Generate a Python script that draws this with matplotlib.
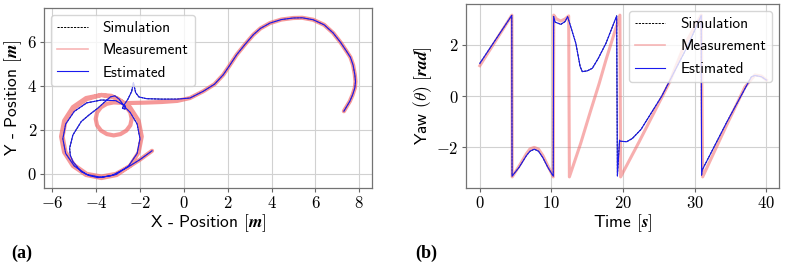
import numpy as np
import matplotlib
matplotlib.use("Agg")
import matplotlib.pyplot as plt
from matplotlib.lines import Line2D
from matplotlib.ticker import FuncFormatter

plt.rcParams["font.family"] = ["cmss10", "DejaVu Sans"]
plt.rcParams["mathtext.fontset"] = "cm"
plt.rcParams["axes.unicode_minus"] = False

# ---- panel (a): x-y trajectory ----
meas_x = [7.30, 7.45, 7.57, 7.70, 7.80, 7.83, 7.80, 7.72, 7.60, 7.42, 7.15, 6.81, 6.40, 5.90, 5.40,
          4.99, 4.45, 3.93, 3.50, 3.17, 2.80, 2.41, 2.10, 1.80, 1.40, 0.89, 0.28, -0.30, -1.00,
          -1.80, -2.60, -3.20, -3.51, -3.78, -3.96, -4.02, -3.96, -3.78, -3.51, -3.20, -2.89,
          -2.62, -2.44, -2.38, -2.44, -2.62, -2.85, -3.30,
          -3.76, -4.46, -5.06, -5.46, -5.60, -5.46, -5.06, -4.46, -3.76, -3.06, -2.46, -2.06,
          -1.92, -2.06, -2.46, -3.06, -3.76, -4.43, -5.00, -5.40, -5.53, -5.40, -5.00, -4.43,
          -3.76, -3.10, -2.55, -2.00, -1.45]
meas_y = [2.85, 3.10, 3.30, 3.60, 3.91, 4.20, 4.51, 4.95, 5.30, 5.58, 5.98, 6.41, 6.78, 7.01, 7.10,
          7.09, 7.02, 6.86, 6.62, 6.33, 5.90, 5.42, 4.95, 4.51, 4.08, 3.76, 3.45, 3.32, 3.27,
          3.24, 3.22, 3.25, 3.19, 3.03, 2.79, 2.50, 2.21, 1.97, 1.81, 1.75, 1.81,
          1.97, 2.21, 2.50, 2.79, 3.03, 3.30, 3.55,
          3.59, 3.45, 3.04, 2.42, 1.70, 0.98, 0.36, -0.05, -0.19, -0.05, 0.36, 0.98,
          1.70, 2.42, 3.04, 3.45, 3.59, 3.40, 3.00, 2.40, 1.70, 1.00, 0.40, 0.00,
          -0.12, 0.00, 0.30, 0.65, 1.05]

est_x = [7.30, 7.45, 7.57, 7.70, 7.80, 7.83, 7.80, 7.72, 7.60, 7.42, 7.15, 6.81, 6.40, 5.90, 5.40,
         4.99, 4.45, 3.93, 3.50, 3.17, 2.80, 2.41, 2.10, 1.80, 1.40, 0.89, 0.28, -0.30, -1.00,
         -1.70, -2.05, -2.20, -2.30, -2.38, -2.55, -2.75, -2.80, -2.68, -2.66, -3.10,
         -3.76, -4.43, -5.00, -5.39, -5.52, -5.39, -5.00, -4.43, -3.76, -3.09, -2.52, -2.13,
         -2.00, -2.13, -2.45, -2.70, -2.95, -3.15, -3.35, -3.60, -3.92, -4.30, -4.68, -5.06,
         -5.21, -5.18, -5.06, -4.68, -4.30, -3.92, -3.30, -2.60, -2.00, -1.45]
est_y = [2.85, 3.10, 3.30, 3.60, 3.91, 4.20, 4.51, 4.95, 5.30, 5.58, 5.98, 6.41, 6.78, 7.01, 7.10,
         7.09, 7.02, 6.86, 6.62, 6.33, 5.90, 5.42, 4.95, 4.51, 4.08, 3.76, 3.45, 3.40, 3.40,
         3.42, 3.50, 3.70, 4.15, 3.75, 3.40, 3.10, 2.98, 2.95, 3.08, 3.33,
         3.36, 3.23, 2.84, 2.27, 1.60, 0.93, 0.36, -0.03, -0.16, -0.03, 0.36, 0.93,
         1.60, 2.27, 2.80, 3.05, 3.40, 3.55, 3.50, 3.28, 2.99, 2.70, 2.38, 1.77,
         1.17, 0.85, 0.56, 0.10, -0.08, -0.17, -0.08, 0.28, 0.65, 1.05]

# ---- panel (b): yaw over time ----
meas_t = [0.0, 4.48, 4.52, 5.5, 6.5, 7.0, 7.6, 8.2, 8.8, 9.5, 10.25, 10.32, 10.7, 11.3, 11.9,
          12.4, 12.5, 14.08, 15.49, 16.66, 17.6, 19.55, 19.65, 22.2, 26.5, 28.5, 30.9, 31.1,
          34.5, 37.0, 38.4, 39.3, 40.0]
meas_yaw = [1.18, 3.15, -3.15, -2.72, -2.25, -2.06, -2.0, -2.07, -2.32, -2.72, -3.15, 3.15, 3.0,
            2.92, 3.0, 3.12, -3.15, -1.84, -0.55, 0.49, 1.40, 3.15, -3.15, -1.80, 0.55, 1.95,
            3.15, -3.15, -1.10, 0.35, 0.82, 0.78, 0.62]

est_t = [0.0, 4.46, 4.5, 5.5, 6.5, 7.0, 7.6, 8.2, 8.8, 9.5, 10.25, 10.3, 10.5, 11.3, 11.9, 12.25,
         12.8, 13.4, 14.0, 14.3, 15.0, 15.7, 16.5, 17.6, 19.1, 19.2, 19.5, 19.6, 20.5, 21.3,
         22.5, 23.9, 25.4, 29.1, 30.9, 30.95, 31.0, 34.5, 37.9, 38.4, 39.3, 40.0]
est_yaw = [1.27, 3.14, -3.12, -2.77, -2.32, -2.15, -2.07, -2.15, -2.40, -2.78, -3.12, 3.10, 2.88,
           2.79, 2.90, 3.09, 2.60, 2.05, 1.15, 0.95, 0.98, 1.08, 1.45, 2.05, 3.12, -3.12, -1.72,
           -1.76, -1.78, -1.65, -1.30, -0.67, 0.0, 2.0, 3.14, -3.08, -2.90, -1.0, 0.75, 0.80,
           0.75, 0.62]

SIM_KW = dict(color="k", ls="--", lw=0.7, dashes=(2.2, 1.2))
MEAS_C = "#f26d6d"
EST_C = "#1a1aee"

fig = plt.figure(figsize=(7.88, 2.72), dpi=100)
axA = fig.add_axes([0.0558, 0.309, 0.4162, 0.662])
axB = fig.add_axes([0.591, 0.309, 0.398, 0.676])

tick_fmt = FuncFormatter(lambda v, p: "$%g$" % v)

axA.plot(est_x, est_y, **SIM_KW)
axA.plot(meas_x, meas_y, color=MEAS_C, lw=3.0, alpha=0.7, solid_capstyle="round")
axA.plot(est_x, est_y, color=EST_C, lw=0.8)
axA.set_xlim(-6.38, 8.58)
axA.set_ylim(-0.64, 7.55)
axA.set_xticks([-6, -4, -2, 0, 2, 4, 6, 8])
axA.set_yticks([0, 2, 4, 6])
axA.set_xlabel(r"X - Position $[\boldsymbol{m}]$", fontsize=12.5, labelpad=1)
axA.set_ylabel(r"Y - Position $[\boldsymbol{m}]$", fontsize=12.5, labelpad=2)

axB.plot(est_t, est_yaw, **SIM_KW)
axB.plot(meas_t, meas_yaw, color=MEAS_C, lw=2.2, alpha=0.55)
axB.plot(est_t, est_yaw, color=EST_C, lw=0.8)
axB.set_xlim(-1.97, 41.8)
axB.set_ylim(-3.58, 3.58)
axB.set_xticks([0, 10, 20, 30, 40])
axB.set_yticks([-2, 0, 2])
axB.set_xlabel(r"Time $[\boldsymbol{s}]$", fontsize=12.5, labelpad=1)
axB.set_ylabel(r"Yaw $(\theta)$ $[\boldsymbol{rad}]$", fontsize=12.5, labelpad=2)

handles = [Line2D([], [], **SIM_KW),
           Line2D([], [], color=MEAS_C, lw=1.2, alpha=0.5),
           Line2D([], [], color=EST_C, lw=0.8)]
labels = ["Simulation", "Measurement", "Estimated"]

for ax in (axA, axB):
    ax.xaxis.set_major_formatter(tick_fmt)
    ax.yaxis.set_major_formatter(tick_fmt)
    ax.tick_params(labelsize=12, length=3, color="0.4", pad=2)
    ax.grid(color="0.82", lw=0.8)
    ax.set_axisbelow(True)
    for s in ax.spines.values():
        s.set_color("0.45")
        s.set_linewidth(0.9)

axA.legend(handles, labels, loc="upper left", fontsize=11, borderaxespad=0.45,
           handletextpad=1.0, labelspacing=0.55)
axB.legend(handles, labels, loc="upper right", fontsize=11, borderaxespad=0.45,
           handletextpad=1.0, labelspacing=0.55)

fig.text(0.014, 0.07, "(a)", fontsize=13, family="Liberation Serif", fontweight="bold", va="center")
fig.text(0.527, 0.07, "(b)", fontsize=13, family="Liberation Serif", fontweight="bold", va="center")

fig.savefig("out.png", dpi=100)
